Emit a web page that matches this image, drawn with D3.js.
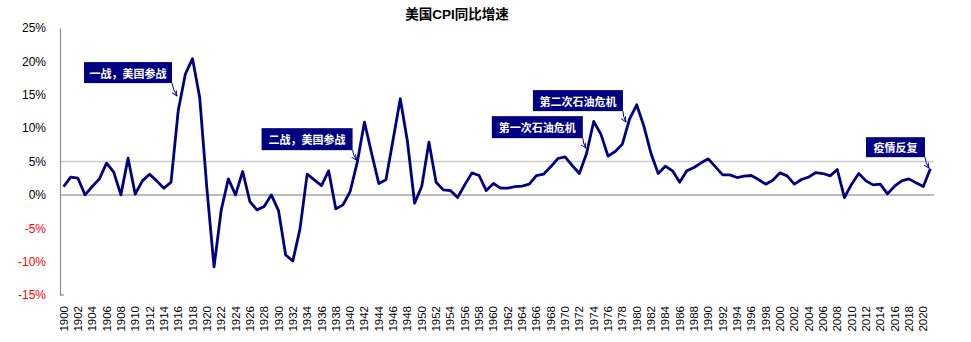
<!DOCTYPE html>
<html><head><meta charset="utf-8">
<script src="https://cdn.jsdelivr.net/npm/d3@7"></script>
<style>body{margin:0;background:#fff}svg{display:block}</style>
</head><body>
<svg id="c" width="971" height="342"></svg>
<script>
const years = d3.range(1900, 2022);
const cpi = [1.25,2.65,2.5,0.0,1.25,2.4,4.75,3.4,0.0,5.5,
 0.1,2.1,3.1,2.1,1.0,1.9,12.6,18.1,20.4,14.6,
 1.0,-10.8,-2.3,2.4,0.0,3.5,-1.0,-2.25,-1.75,0.0,
 -2.35,-9.0,-9.9,-5.1,3.1,2.25,1.4,3.6,-2.1,-1.5,
 0.5,4.9,10.9,6.2,1.7,2.25,8.3,14.4,8.0,-1.25,
 1.3,7.9,1.9,0.75,0.65,-0.4,1.5,3.3,2.9,0.65,
 1.7,1.0,1.0,1.25,1.3,1.6,2.9,3.1,4.2,5.45,
 5.7,4.4,3.2,6.2,11.0,9.1,5.8,6.5,7.6,11.35,
 13.5,10.3,6.2,3.2,4.3,3.6,1.9,3.6,4.1,4.8,
 5.4,4.2,3.0,3.0,2.6,2.8,2.9,2.3,1.6,2.2,
 3.3,2.85,1.6,2.3,2.65,3.35,3.2,2.85,3.8,-0.4,
 1.6,3.2,2.1,1.5,1.6,0.15,1.3,2.1,2.4,1.8,
 1.25,3.9];
const yTicks = [-15,-10,-5,0,5,10,15,20,25];
const xTickYears = years.filter(y => y % 2 === 0);
const gridValues = [0, 5];
const title = "美国CPI同比增速";
const annText = ["一战，美国参战","二战，美国参战","第一次石油危机","第二次石油危机","疫情反复"];
const annYear = [1915.83, 1940.9, 1972.9, 1978.5, 2020.8];
const annValue = [14.8, 5.2, 7.0, 10.9, 4.0];

// layout
const L = {left:60, right:934, top:28, bottom:295};
const annOffset = [[-5,-13],[-4,-10],[-3,-10],[-3,-11],[-4,-11]];
const annBoxW = [88, 91, 91, 90, 59];
const annBoxH = [21, 22, 22, 21, 20];

const svg = d3.select("#c");
const x = d3.scaleBand().domain(years).range([L.left, L.right]).padding(0);
const xc = y => x(y) + x.bandwidth()/2;
const xLin = d3.scaleLinear().domain([1900, 2021]).range([xc(1900), xc(2021)]);
const y = d3.scaleLinear().domain([-15, 25]).range([L.bottom, L.top]);

svg.append("text").attr("x", 457).attr("y", 19).attr("text-anchor","middle")
  .attr("font-family","'Liberation Sans','Noto Sans CJK SC',sans-serif")
  .attr("font-weight","bold").attr("font-size",13.5).attr("fill","#000").text(title);

// grid lines
svg.selectAll("line.grid").data(gridValues).join("line").attr("class","grid")
  .attr("x1", L.left).attr("x2", L.right)
  .attr("y1", d => y(d)).attr("y2", d => y(d))
  .attr("stroke", d => d === 0 ? "#a6a6a6" : "#cccccc").attr("stroke-width", 1.5);

// y axis
const yAxis = d3.axisLeft(y).tickValues(yTicks).tickSize(0).tickPadding(14)
  .tickFormat(d => d + "%");
const gy = svg.append("g").attr("transform", `translate(${L.left},0)`).call(yAxis);
gy.select(".domain").attr("stroke","#8c8c8c").attr("stroke-width",1.2);
gy.selectAll("text").attr("font-family","'Liberation Sans',Arial,sans-serif")
  .attr("font-size",12).attr("fill", d => d < 0 ? "#ff0000" : "#000");
svg.append("line").attr("x1",L.left).attr("x2",L.left+4).attr("y1",y(-15)).attr("y2",y(-15))
  .attr("stroke","#8c8c8c").attr("stroke-width",1.2);

// x labels
const xAxis = d3.axisBottom(x).tickValues(xTickYears).tickSize(0).tickPadding(0);
const gx = svg.append("g").attr("transform", `translate(0,${L.bottom})`).call(xAxis);
gx.select(".domain").remove();
gx.selectAll("text").attr("font-family","'Liberation Sans',Arial,sans-serif")
  .attr("font-size",11.5).attr("fill","#000")
  .attr("transform","translate(0,11) rotate(-90)")
  .attr("text-anchor","end").attr("dy","0.35em").attr("x",0).attr("y",0);

// line
const line = d3.line().x((d,i) => xc(years[i])).y(d => y(d));
svg.append("path").datum(cpi).attr("d", line).attr("fill","none")
  .attr("stroke","#000080").attr("stroke-width",2.8).attr("stroke-linejoin","round");

// annotations
const defs = svg.append("defs");
defs.append("marker").attr("id","arr").attr("viewBox","0 0 10 10").attr("refX",9).attr("refY",5)
  .attr("markerWidth",6).attr("markerHeight",6).attr("orient","auto")
  .append("path").attr("d","M0,1 L9,5 L0,9").attr("fill","none").attr("stroke","#000080").attr("stroke-width",1.5);

annText.forEach((t,i) => {
  const tx = xLin(annYear[i]), ty = y(annValue[i]);
  const sx = tx + annOffset[i][0], sy = ty + annOffset[i][1];
  const w = annBoxW[i], h = annBoxH[i];
  svg.append("rect").attr("x", sx - w).attr("y", sy - h).attr("width", w).attr("height", h)
    .attr("fill","#000080");
  svg.append("text").attr("x", sx - w/2).attr("y", sy - h/2).attr("text-anchor","middle")
    .attr("dominant-baseline","central")
    .attr("font-family","'Noto Sans CJK SC',sans-serif").attr("font-weight","bold")
    .attr("font-size",11).attr("fill","#fff").text(t);
  const mx = (sx+tx)/2 - 1.5, my = (sy+ty)/2;
  svg.append("path").attr("d", `M${sx},${sy} Q${mx},${my} ${tx},${ty}`)
    .attr("fill","none").attr("stroke","#000080").attr("stroke-width",1)
    .attr("marker-end","url(#arr)");
});
</script>
</body></html>
